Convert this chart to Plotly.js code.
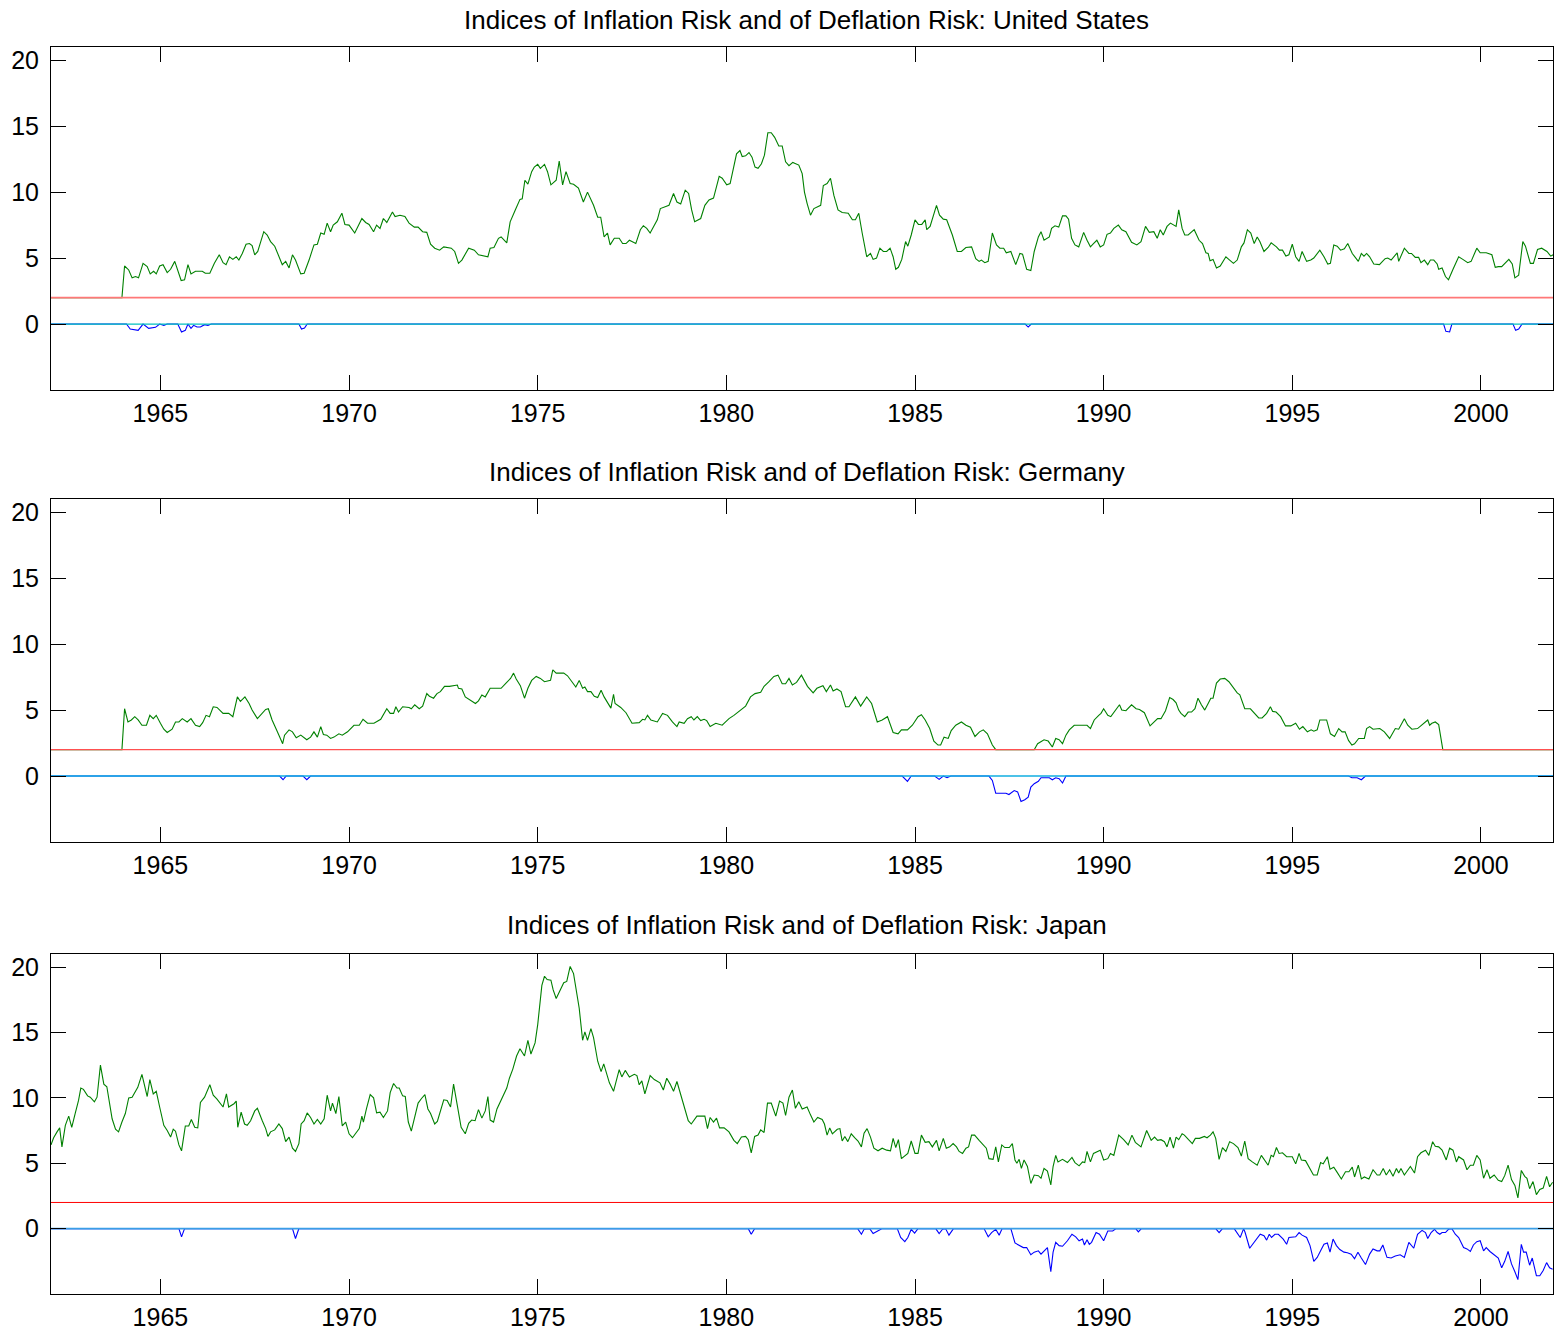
<!DOCTYPE html>
<html>
<head>
<meta charset="utf-8">
<script src="https://cdn.plot.ly/plotly-3.0.1.min.js"></script>
<style>html,body{margin:0;padding:0;background:#fff;}#chart{width:1555px;height:1332px;}</style>
</head>
<body>
<div id="chart"></div>
<script>
// ---------------- DATA ----------------
const countries = ["United States", "Germany", "Japan"];
const titlePrefix = "Indices of Inflation Risk and of Deflation Risk: ";
const xTickYears = [1965, 1970, 1975, 1980, 1985, 1990, 1995, 2000];
const yTickValues = [0, 5, 10, 15, 20];
const xLimits = [1962.1, 2001.91];
const yLimits = [-5, 21];
const inflationThreshold = 2;
const deflationThreshold = 0;

// [decimal year, index value]
const usInflation = [[1962.10,2.0],[1963.98,2.0],[1964.05,4.4],[1964.16,4.1],[1964.25,3.5],[1964.34,3.6],[1964.42,3.5],[1964.54,4.6],[1964.65,4.35],[1964.73,3.8],[1964.82,4.0],[1964.89,3.8],[1964.98,4.4],[1965.07,4.5],[1965.18,3.9],[1965.27,4.15],[1965.38,4.75],[1965.46,4.1],[1965.55,3.3],[1965.64,3.35],[1965.73,4.5],[1965.81,3.8],[1965.93,4.0],[1966.11,4.0],[1966.19,3.85],[1966.31,3.85],[1966.43,4.6],[1966.56,5.25],[1966.66,4.65],[1966.74,4.5],[1966.83,5.1],[1966.92,4.9],[1967.01,5.1],[1967.08,4.85],[1967.17,5.35],[1967.27,6.05],[1967.36,6.1],[1967.43,5.95],[1967.50,5.25],[1967.58,5.5],[1967.74,7.0],[1967.83,6.75],[1967.92,6.25],[1968.03,5.9],[1968.12,5.3],[1968.23,4.5],[1968.32,4.75],[1968.41,4.25],[1968.50,5.25],[1968.58,4.85],[1968.72,3.8],[1968.81,3.85],[1968.94,4.85],[1969.07,6.0],[1969.16,6.05],[1969.25,6.9],[1969.34,6.8],[1969.42,7.65],[1969.51,7.0],[1969.58,7.5],[1969.69,7.75],[1969.81,8.4],[1969.89,7.55],[1970.00,7.5],[1970.15,6.9],[1970.34,8.0],[1970.44,7.7],[1970.53,7.55],[1970.65,7.0],[1970.73,7.5],[1970.82,7.25],[1970.91,8.0],[1971.00,7.7],[1971.15,8.5],[1971.22,8.15],[1971.35,8.25],[1971.48,8.15],[1971.59,7.65],[1971.73,7.35],[1971.83,7.35],[1971.95,7.0],[1972.06,6.95],[1972.16,6.05],[1972.27,5.75],[1972.40,5.6],[1972.51,5.85],[1972.71,5.75],[1972.80,5.5],[1972.90,4.6],[1972.99,4.85],[1973.17,5.75],[1973.32,5.6],[1973.43,5.25],[1973.68,5.1],[1973.74,5.75],[1973.84,5.8],[1973.96,6.5],[1974.03,6.6],[1974.18,6.15],[1974.27,7.75],[1974.40,8.6],[1974.53,9.45],[1974.59,9.5],[1974.66,10.9],[1974.74,10.6],[1974.84,11.55],[1974.91,11.9],[1975.00,12.1],[1975.07,11.8],[1975.18,12.1],[1975.26,11.55],[1975.35,10.55],[1975.49,10.9],[1975.57,12.35],[1975.66,10.55],[1975.75,11.55],[1975.86,10.65],[1975.95,10.6],[1976.08,10.3],[1976.21,9.25],[1976.32,10.0],[1976.48,9.0],[1976.59,8.1],[1976.67,8.1],[1976.76,6.6],[1976.85,6.9],[1976.92,6.0],[1977.03,6.5],[1977.16,6.5],[1977.25,6.1],[1977.34,6.1],[1977.43,6.35],[1977.60,6.1],[1977.72,7.15],[1977.80,7.45],[1977.89,7.25],[1977.98,6.9],[1978.09,7.5],[1978.17,7.9],[1978.25,8.75],[1978.40,8.9],[1978.48,9.0],[1978.60,9.9],[1978.69,9.25],[1978.79,9.1],[1978.91,10.15],[1979.00,9.9],[1979.08,8.65],[1979.16,7.75],[1979.32,8.0],[1979.43,9.0],[1979.54,9.4],[1979.66,9.55],[1979.81,11.2],[1979.89,11.05],[1980.01,10.55],[1980.10,10.65],[1980.27,12.9],[1980.36,13.15],[1980.42,12.7],[1980.51,12.75],[1980.60,13.0],[1980.68,12.65],[1980.76,11.9],[1980.84,11.8],[1980.93,12.15],[1981.01,12.8],[1981.10,14.5],[1981.19,14.5],[1981.28,14.15],[1981.39,13.5],[1981.48,13.5],[1981.57,12.3],[1981.66,12.0],[1981.76,12.25],[1981.92,12.05],[1982.01,11.4],[1982.07,10.0],[1982.14,9.15],[1982.23,8.25],[1982.32,8.75],[1982.50,9.0],[1982.57,10.5],[1982.67,10.65],[1982.76,11.05],[1982.85,9.75],[1982.96,8.65],[1983.07,8.45],[1983.23,8.4],[1983.34,7.9],[1983.42,7.9],[1983.51,8.4],[1983.60,6.9],[1983.72,5.1],[1983.82,5.35],[1983.89,4.9],[1983.98,5.0],[1984.07,5.75],[1984.16,5.5],[1984.25,5.5],[1984.34,5.75],[1984.42,5.1],[1984.49,4.15],[1984.56,4.3],[1984.65,4.9],[1984.75,6.25],[1984.81,5.9],[1984.90,6.75],[1985.00,7.9],[1985.09,7.55],[1985.18,7.55],[1985.27,7.9],[1985.31,7.15],[1985.40,7.4],[1985.57,9.0],[1985.65,8.25],[1985.75,7.95],[1985.84,7.9],[1985.99,6.75],[1986.12,5.5],[1986.23,5.5],[1986.35,5.8],[1986.50,5.85],[1986.61,4.95],[1986.70,4.75],[1986.76,4.85],[1986.85,4.65],[1986.94,4.75],[1987.05,6.9],[1987.16,6.0],[1987.25,5.75],[1987.35,5.75],[1987.42,5.4],[1987.54,5.5],[1987.67,4.5],[1987.78,5.35],[1987.85,5.3],[1987.96,4.15],[1988.07,4.05],[1988.16,5.5],[1988.27,6.6],[1988.34,7.0],[1988.42,6.35],[1988.56,6.6],[1988.62,7.25],[1988.71,7.45],[1988.81,7.35],[1988.91,8.2],[1989.00,8.2],[1989.07,7.95],[1989.15,6.5],[1989.24,6.0],[1989.34,5.85],[1989.47,6.95],[1989.56,6.35],[1989.65,5.85],[1989.73,6.1],[1989.82,6.35],[1989.91,5.85],[1990.00,6.0],[1990.09,6.8],[1990.18,6.9],[1990.27,7.25],[1990.39,7.5],[1990.48,7.15],[1990.59,7.0],[1990.74,6.2],[1990.88,6.0],[1990.99,6.25],[1991.05,6.75],[1991.11,7.4],[1991.21,6.95],[1991.33,7.0],[1991.42,6.5],[1991.50,7.15],[1991.58,6.75],[1991.68,7.4],[1991.77,7.65],[1991.92,7.4],[1991.99,8.65],[1992.08,7.25],[1992.15,6.75],[1992.24,6.75],[1992.40,7.15],[1992.53,6.35],[1992.62,6.1],[1992.71,5.4],[1992.77,5.35],[1992.82,4.8],[1992.90,4.9],[1992.99,4.25],[1993.09,4.4],[1993.24,5.1],[1993.34,4.85],[1993.44,4.6],[1993.54,4.85],[1993.65,5.85],[1993.72,6.15],[1993.81,7.15],[1993.90,6.9],[1993.99,6.1],[1994.07,6.6],[1994.14,6.25],[1994.25,5.5],[1994.36,5.8],[1994.44,6.15],[1994.58,5.85],[1994.66,5.6],[1994.74,5.6],[1994.83,5.15],[1994.91,5.25],[1995.00,6.05],[1995.09,5.1],[1995.18,4.75],[1995.26,5.5],[1995.38,4.75],[1995.49,4.85],[1995.57,5.0],[1995.73,5.6],[1995.84,5.1],[1995.94,4.55],[1996.01,4.6],[1996.10,6.0],[1996.19,5.9],[1996.28,5.6],[1996.38,5.7],[1996.47,6.1],[1996.59,5.35],[1996.68,5.0],[1996.75,4.75],[1996.83,5.35],[1996.90,5.15],[1996.97,5.35],[1997.05,5.1],[1997.16,4.55],[1997.31,4.5],[1997.46,4.95],[1997.53,5.0],[1997.62,4.85],[1997.78,5.4],[1997.82,4.75],[1997.97,5.75],[1998.09,5.35],[1998.16,5.35],[1998.26,5.05],[1998.35,5.05],[1998.41,4.65],[1998.50,4.85],[1998.59,4.5],[1998.66,4.85],[1998.75,4.85],[1998.84,4.55],[1998.88,4.15],[1998.97,4.25],[1999.06,3.6],[1999.14,3.35],[1999.26,4.15],[1999.41,5.1],[1999.52,4.9],[1999.65,4.65],[1999.74,4.75],[1999.89,5.75],[1999.98,5.4],[2000.14,5.4],[2000.29,5.25],[2000.38,4.3],[2000.46,4.35],[2000.55,4.35],[2000.74,4.9],[2000.83,4.55],[2000.90,3.5],[2001.00,3.7],[2001.11,6.25],[2001.18,5.9],[2001.31,4.6],[2001.39,4.6],[2001.50,5.65],[2001.61,5.75],[2001.75,5.5],[2001.85,5.15],[2001.91,5.25]];

const usDeflation = [[1962.10,0],[1964.10,0],[1964.20,-0.38],[1964.41,-0.48],[1964.54,0],[1964.69,-0.33],[1964.87,-0.25],[1964.98,0],[1965.09,-0.1],[1965.18,0],[1965.46,0],[1965.56,-0.6],[1965.66,-0.48],[1965.73,0],[1965.81,-0.33],[1965.88,-0.1],[1965.97,-0.23],[1966.06,-0.23],[1966.17,-0.05],[1966.26,-0.1],[1966.35,0],[1968.67,0],[1968.74,-0.38],[1968.82,-0.3],[1968.89,0],[1987.92,0],[1988.00,-0.23],[1988.08,0],[1999.01,0],[1999.07,-0.55],[1999.17,-0.6],[1999.23,0],[2000.85,0],[2000.92,-0.48],[2001.00,-0.38],[2001.09,0],[2001.91,0]];

const deInflation = [[1962.10,2.0],[1963.98,2.0],[1964.05,5.1],[1964.14,4.1],[1964.23,4.25],[1964.32,4.5],[1964.41,4.25],[1964.51,3.85],[1964.63,3.85],[1964.72,4.6],[1964.81,4.35],[1964.89,4.6],[1965.00,4.0],[1965.09,3.55],[1965.18,3.3],[1965.31,3.55],[1965.40,4.1],[1965.49,4.1],[1965.58,4.35],[1965.71,4.1],[1965.81,4.35],[1965.93,3.85],[1966.04,3.75],[1966.12,4.05],[1966.21,4.6],[1966.30,4.5],[1966.40,5.25],[1966.50,5.2],[1966.66,4.75],[1966.81,4.75],[1966.92,4.5],[1967.04,6.0],[1967.12,5.65],[1967.24,6.0],[1967.35,5.5],[1967.43,5.0],[1967.57,4.35],[1967.70,4.75],[1967.79,5.05],[1967.86,5.1],[1967.96,4.25],[1968.10,3.35],[1968.24,2.45],[1968.29,3.1],[1968.41,3.5],[1968.50,3.35],[1968.60,2.9],[1968.72,3.1],[1968.88,2.75],[1968.98,2.95],[1969.07,3.35],[1969.16,2.95],[1969.25,3.75],[1969.32,3.15],[1969.41,3.1],[1969.51,2.85],[1969.60,2.95],[1969.73,3.2],[1969.82,3.1],[1969.96,3.35],[1970.13,3.85],[1970.27,3.85],[1970.37,4.3],[1970.49,4.0],[1970.66,4.0],[1970.84,4.3],[1971.00,5.1],[1971.09,4.75],[1971.18,4.75],[1971.24,5.25],[1971.31,4.85],[1971.42,5.25],[1971.59,5.2],[1971.65,5.1],[1971.74,5.4],[1971.86,5.1],[1971.95,5.3],[1972.06,6.25],[1972.13,6.05],[1972.24,5.9],[1972.33,6.25],[1972.42,6.4],[1972.53,6.8],[1972.66,6.8],[1972.80,6.9],[1972.87,6.9],[1972.90,6.65],[1972.99,6.6],[1973.08,6.0],[1973.24,5.7],[1973.35,5.5],[1973.43,5.7],[1973.52,6.15],[1973.61,6.0],[1973.74,6.65],[1973.85,6.65],[1974.03,6.65],[1974.16,7.05],[1974.28,7.4],[1974.36,7.8],[1974.43,7.35],[1974.54,6.85],[1974.65,5.9],[1974.74,6.65],[1974.84,7.25],[1974.96,7.55],[1975.07,7.4],[1975.18,7.15],[1975.34,7.25],[1975.40,8.05],[1975.49,7.8],[1975.57,7.8],[1975.69,7.8],[1975.79,7.6],[1975.90,7.15],[1976.01,6.75],[1976.10,7.25],[1976.19,6.65],[1976.25,6.75],[1976.32,6.4],[1976.41,6.4],[1976.50,6.05],[1976.59,5.95],[1976.68,6.5],[1976.76,6.0],[1976.94,5.15],[1977.01,6.2],[1977.05,5.5],[1977.20,5.2],[1977.34,4.8],[1977.50,4.0],[1977.60,4.05],[1977.69,4.05],[1977.78,4.3],[1977.84,4.25],[1977.91,4.6],[1978.00,4.25],[1978.17,4.1],[1978.31,4.75],[1978.44,4.6],[1978.57,4.1],[1978.69,3.75],[1978.75,4.1],[1978.88,4.0],[1978.97,4.35],[1979.07,4.5],[1979.14,4.25],[1979.23,4.5],[1979.32,4.2],[1979.41,4.3],[1979.48,4.2],[1979.57,3.75],[1979.72,4.0],[1979.89,3.85],[1980.07,4.35],[1980.20,4.6],[1980.29,4.8],[1980.40,5.0],[1980.51,5.3],[1980.64,6.0],[1980.76,6.25],[1980.91,6.35],[1981.00,6.8],[1981.13,7.15],[1981.26,7.55],[1981.37,7.65],[1981.48,7.0],[1981.57,7.0],[1981.66,7.4],[1981.75,6.9],[1981.86,7.1],[1981.99,7.65],[1982.10,7.05],[1982.15,6.8],[1982.30,6.3],[1982.40,6.65],[1982.56,6.85],[1982.65,6.4],[1982.76,6.9],[1982.83,6.45],[1982.93,6.6],[1983.04,6.4],[1983.16,5.25],[1983.25,5.25],[1983.42,6.0],[1983.56,5.3],[1983.72,6.0],[1983.85,5.5],[1984.00,4.1],[1984.13,4.25],[1984.27,4.5],[1984.42,3.3],[1984.55,3.2],[1984.64,3.5],[1984.80,3.5],[1984.93,3.85],[1985.08,4.5],[1985.17,4.65],[1985.27,4.25],[1985.39,3.6],[1985.50,2.65],[1985.61,2.35],[1985.68,2.35],[1985.77,2.95],[1985.88,2.85],[1985.96,3.45],[1986.08,3.85],[1986.23,4.1],[1986.35,3.85],[1986.47,3.7],[1986.59,3.0],[1986.71,3.35],[1986.81,3.5],[1986.92,3.2],[1987.05,2.35],[1987.14,2.0],[1988.16,2.0],[1988.25,2.45],[1988.42,2.75],[1988.53,2.65],[1988.64,2.2],[1988.73,2.85],[1988.82,2.75],[1988.91,2.45],[1989.00,3.1],[1989.09,3.5],[1989.22,3.85],[1989.35,3.85],[1989.47,3.8],[1989.56,3.85],[1989.65,3.6],[1989.75,4.25],[1989.87,4.6],[1989.93,4.75],[1990.00,5.1],[1990.11,4.6],[1990.19,4.5],[1990.33,5.0],[1990.42,5.4],[1990.48,5.0],[1990.59,4.95],[1990.74,5.4],[1990.86,5.1],[1990.95,5.05],[1991.08,4.8],[1991.23,3.8],[1991.33,4.1],[1991.43,4.35],[1991.52,4.35],[1991.64,4.95],[1991.75,5.95],[1991.84,5.8],[1991.92,5.55],[1991.99,5.0],[1992.05,4.75],[1992.15,4.5],[1992.24,4.85],[1992.33,4.85],[1992.42,5.1],[1992.50,5.9],[1992.59,5.4],[1992.68,5.0],[1992.77,5.5],[1992.84,5.9],[1992.90,5.9],[1992.99,7.05],[1993.09,7.35],[1993.21,7.4],[1993.32,7.15],[1993.46,6.65],[1993.54,6.3],[1993.61,6.15],[1993.74,5.1],[1993.89,5.1],[1994.03,4.7],[1994.11,4.4],[1994.20,4.4],[1994.32,4.75],[1994.42,5.25],[1994.48,4.9],[1994.57,4.85],[1994.69,4.5],[1994.82,3.8],[1994.96,3.8],[1995.09,4.0],[1995.19,3.55],[1995.28,3.75],[1995.40,3.35],[1995.50,3.5],[1995.57,3.4],[1995.66,3.5],[1995.73,4.25],[1995.91,4.25],[1996.01,3.2],[1996.12,3.0],[1996.23,3.6],[1996.32,3.35],[1996.40,3.35],[1996.49,2.7],[1996.58,2.35],[1996.65,2.45],[1996.76,2.85],[1996.91,2.85],[1996.97,3.6],[1997.05,3.75],[1997.14,3.55],[1997.32,3.6],[1997.44,3.35],[1997.58,2.85],[1997.73,3.6],[1997.82,3.55],[1997.97,4.35],[1998.06,3.85],[1998.17,3.55],[1998.32,3.6],[1998.43,3.85],[1998.59,4.25],[1998.64,3.85],[1998.70,4.0],[1998.79,4.1],[1998.88,3.9],[1998.99,2.0],[2001.91,2.0]];

const deDeflation = [[1962.10,0],[1968.16,0],[1968.25,-0.28],[1968.33,0],[1968.78,0],[1968.88,-0.28],[1968.98,0],[1984.66,0],[1984.80,-0.4],[1984.90,0],[1985.52,0],[1985.64,-0.25],[1985.75,0],[1985.85,-0.13],[1985.95,0],[1986.96,0],[1987.05,-0.33],[1987.14,-1.3],[1987.41,-1.3],[1987.49,-1.4],[1987.63,-1.1],[1987.72,-1.2],[1987.81,-1.93],[1987.91,-1.8],[1988.00,-1.6],[1988.07,-0.84],[1988.16,-0.58],[1988.27,-0.4],[1988.34,-0.13],[1988.56,-0.13],[1988.64,-0.28],[1988.73,-0.13],[1988.82,-0.2],[1988.91,-0.53],[1989.00,0],[1996.49,0],[1996.58,-0.13],[1996.72,-0.13],[1996.83,-0.28],[1996.94,0],[2001.91,0]];

const jpInflation = [[1962.10,6.4],[1962.17,6.95],[1962.26,7.4],[1962.33,7.7],[1962.39,6.25],[1962.48,7.9],[1962.57,8.6],[1962.65,7.75],[1962.74,8.8],[1962.83,9.8],[1962.89,10.75],[1962.96,10.65],[1963.07,10.15],[1963.14,10.05],[1963.25,9.7],[1963.32,10.05],[1963.41,12.5],[1963.50,11.05],[1963.58,10.85],[1963.72,8.4],[1963.81,7.6],[1963.89,7.4],[1963.98,8.15],[1964.07,8.8],[1964.16,10.0],[1964.25,10.05],[1964.40,10.8],[1964.51,11.8],[1964.65,10.1],[1964.72,11.4],[1964.81,10.3],[1964.89,10.5],[1964.98,9.3],[1965.09,7.9],[1965.18,7.5],[1965.27,7.0],[1965.34,7.6],[1965.40,7.45],[1965.49,6.4],[1965.56,5.95],[1965.66,7.85],[1965.75,7.85],[1965.82,8.35],[1965.91,7.75],[1965.99,7.7],[1966.06,9.65],[1966.17,10.05],[1966.31,11.0],[1966.40,10.2],[1966.50,9.9],[1966.66,9.3],[1966.75,10.3],[1966.81,9.3],[1966.95,9.55],[1967.01,9.75],[1967.05,7.75],[1967.14,8.9],[1967.23,8.0],[1967.30,7.9],[1967.39,8.25],[1967.50,9.0],[1967.57,9.2],[1967.70,8.25],[1967.79,7.65],[1967.85,7.05],[1967.92,7.4],[1968.03,7.55],[1968.14,8.0],[1968.23,7.65],[1968.32,6.65],[1968.41,7.0],[1968.50,6.15],[1968.58,5.9],[1968.67,6.5],[1968.73,8.0],[1968.81,8.25],[1968.89,8.85],[1968.98,8.5],[1969.07,8.0],[1969.16,8.35],[1969.25,8.0],[1969.34,8.4],[1969.42,10.2],[1969.51,9.0],[1969.56,9.6],[1969.65,8.8],[1969.73,10.1],[1969.82,7.85],[1969.91,8.15],[1970.00,7.25],[1970.09,6.95],[1970.18,7.3],[1970.27,7.65],[1970.34,8.6],[1970.38,8.15],[1970.46,9.15],[1970.56,10.25],[1970.65,10.0],[1970.73,8.85],[1970.82,8.9],[1970.91,8.5],[1971.02,9.0],[1971.09,10.4],[1971.18,11.1],[1971.27,10.75],[1971.33,10.75],[1971.42,10.15],[1971.49,10.1],[1971.57,8.15],[1971.65,7.45],[1971.74,8.45],[1971.83,9.6],[1971.92,9.95],[1972.01,10.25],[1972.09,9.15],[1972.16,8.8],[1972.27,8.0],[1972.34,8.2],[1972.51,9.85],[1972.60,9.8],[1972.69,9.3],[1972.77,11.05],[1972.87,9.4],[1972.97,7.75],[1973.08,7.25],[1973.17,8.05],[1973.25,8.3],[1973.34,8.25],[1973.43,9.1],[1973.52,8.45],[1973.61,9.0],[1973.68,10.1],[1973.74,8.3],[1973.83,8.15],[1973.92,9.15],[1974.05,9.9],[1974.18,10.75],[1974.25,11.5],[1974.34,12.2],[1974.44,13.2],[1974.53,13.75],[1974.65,13.2],[1974.74,14.4],[1974.82,13.35],[1974.93,14.2],[1975.00,15.6],[1975.11,18.6],[1975.18,19.3],[1975.25,19.05],[1975.35,19.0],[1975.41,18.25],[1975.49,17.6],[1975.60,18.25],[1975.69,18.8],[1975.77,18.9],[1975.86,20.05],[1975.95,19.5],[1976.01,18.35],[1976.10,16.85],[1976.19,14.4],[1976.25,15.05],[1976.32,14.4],[1976.41,15.3],[1976.48,14.6],[1976.59,12.8],[1976.68,12.0],[1976.75,12.6],[1976.90,11.15],[1977.01,10.5],[1977.16,12.15],[1977.23,11.6],[1977.32,12.1],[1977.43,11.6],[1977.56,11.8],[1977.63,11.7],[1977.69,11.0],[1977.76,11.3],[1977.84,10.3],[1977.98,11.7],[1978.09,11.4],[1978.24,11.15],[1978.33,10.6],[1978.42,11.5],[1978.51,11.05],[1978.60,10.5],[1978.69,11.25],[1978.79,10.3],[1978.88,9.3],[1978.99,8.25],[1979.07,8.0],[1979.22,8.6],[1979.43,8.6],[1979.50,7.65],[1979.57,8.5],[1979.66,8.15],[1979.74,8.45],[1979.82,7.7],[1979.94,7.7],[1980.07,7.4],[1980.20,6.75],[1980.29,6.5],[1980.40,7.0],[1980.51,7.05],[1980.58,6.8],[1980.66,5.8],[1980.75,7.05],[1980.84,7.15],[1980.91,7.55],[1981.00,7.35],[1981.09,9.6],[1981.19,9.6],[1981.31,8.6],[1981.41,9.75],[1981.50,9.6],[1981.57,8.65],[1981.66,10.05],[1981.75,10.6],[1981.83,9.2],[1981.92,9.7],[1982.01,9.15],[1982.14,9.3],[1982.23,8.7],[1982.32,8.15],[1982.42,8.5],[1982.54,8.35],[1982.60,8.0],[1982.67,7.15],[1982.74,7.7],[1982.81,7.25],[1982.94,7.6],[1983.01,7.65],[1983.07,6.7],[1983.14,7.05],[1983.22,6.65],[1983.31,7.25],[1983.40,6.95],[1983.49,6.7],[1983.58,6.25],[1983.65,7.3],[1983.73,7.65],[1983.82,7.0],[1983.91,6.15],[1984.02,5.95],[1984.13,6.15],[1984.25,6.0],[1984.35,5.95],[1984.42,6.9],[1984.49,6.2],[1984.56,6.8],[1984.64,5.35],[1984.75,5.6],[1984.81,5.75],[1984.90,6.7],[1985.00,5.75],[1985.08,5.75],[1985.17,7.15],[1985.27,6.6],[1985.37,6.65],[1985.46,6.25],[1985.57,6.75],[1985.64,5.95],[1985.68,6.25],[1985.75,6.9],[1985.83,6.15],[1985.92,6.25],[1986.01,6.5],[1986.10,6.25],[1986.17,5.9],[1986.26,5.75],[1986.35,6.15],[1986.42,6.25],[1986.50,7.15],[1986.58,7.15],[1986.70,6.75],[1986.81,6.4],[1986.89,6.15],[1986.96,5.35],[1987.07,5.3],[1987.14,6.25],[1987.21,5.1],[1987.30,6.4],[1987.38,6.2],[1987.50,6.2],[1987.58,6.5],[1987.65,5.25],[1987.70,5.0],[1987.76,5.3],[1987.82,4.6],[1987.89,5.25],[1987.98,4.75],[1988.07,3.45],[1988.16,4.1],[1988.27,4.05],[1988.34,3.85],[1988.42,4.6],[1988.51,4.4],[1988.60,3.35],[1988.66,4.75],[1988.73,5.6],[1988.79,5.1],[1988.91,5.3],[1989.04,5.05],[1989.16,5.45],[1989.24,5.05],[1989.35,4.8],[1989.44,5.1],[1989.50,5.05],[1989.56,5.9],[1989.65,5.1],[1989.73,5.75],[1989.91,6.0],[1990.00,5.25],[1990.11,5.35],[1990.18,5.75],[1990.27,5.6],[1990.40,7.15],[1990.53,6.8],[1990.65,6.4],[1990.75,7.15],[1990.84,6.6],[1990.99,6.25],[1991.14,7.5],[1991.26,6.75],[1991.35,7.0],[1991.43,6.75],[1991.52,6.8],[1991.61,6.65],[1991.68,6.25],[1991.76,7.0],[1991.85,6.15],[1991.92,7.0],[1991.99,6.8],[1992.08,7.25],[1992.14,7.15],[1992.25,6.8],[1992.35,6.5],[1992.43,6.9],[1992.54,6.9],[1992.67,7.05],[1992.74,6.95],[1992.83,7.15],[1992.90,7.4],[1992.97,6.9],[1993.06,5.3],[1993.15,6.2],[1993.24,5.9],[1993.34,6.65],[1993.44,6.5],[1993.56,6.2],[1993.65,5.55],[1993.74,6.7],[1993.83,5.35],[1993.94,5.1],[1994.07,4.85],[1994.18,5.6],[1994.29,5.1],[1994.36,4.85],[1994.44,5.6],[1994.50,5.5],[1994.58,6.2],[1994.65,5.75],[1994.74,5.8],[1994.85,5.5],[1995.00,5.5],[1995.09,4.95],[1995.18,5.75],[1995.24,5.25],[1995.35,5.2],[1995.44,4.75],[1995.56,4.1],[1995.66,4.1],[1995.75,5.05],[1995.82,4.95],[1995.93,5.5],[1996.00,4.55],[1996.10,4.7],[1996.19,4.3],[1996.30,3.8],[1996.41,4.35],[1996.50,4.35],[1996.59,4.7],[1996.65,3.95],[1996.75,4.85],[1996.83,3.8],[1996.91,3.95],[1997.03,3.8],[1997.14,4.5],[1997.25,4.1],[1997.32,4.1],[1997.41,4.6],[1997.49,4.1],[1997.58,4.5],[1997.67,4.0],[1997.76,4.6],[1997.82,4.25],[1997.88,4.6],[1997.97,4.1],[1998.13,4.75],[1998.24,4.25],[1998.32,5.5],[1998.41,5.8],[1998.53,6.0],[1998.62,5.6],[1998.72,6.65],[1998.79,6.3],[1998.88,6.25],[1998.97,6.0],[1999.08,5.25],[1999.17,6.15],[1999.26,6.0],[1999.35,5.1],[1999.41,5.5],[1999.54,5.25],[1999.63,4.5],[1999.72,4.85],[1999.80,4.85],[1999.89,5.6],[1999.98,5.25],[2000.07,3.85],[2000.16,4.5],[2000.24,3.85],[2000.35,4.1],[2000.46,3.7],[2000.55,3.6],[2000.63,4.05],[2000.72,4.85],[2000.81,3.75],[2000.90,3.3],[2000.98,2.35],[2001.07,4.45],[2001.16,4.0],[2001.22,3.85],[2001.29,3.05],[2001.38,3.6],[2001.47,2.6],[2001.56,3.0],[2001.65,3.1],[2001.74,4.0],[2001.82,3.2],[2001.90,3.55]];

const jpDeflation = [[1962.10,0],[1965.49,0],[1965.56,-0.63],[1965.64,0],[1968.50,0],[1968.58,-0.76],[1968.67,0],[1980.58,0],[1980.66,-0.43],[1980.75,0],[1983.48,0],[1983.58,-0.43],[1983.65,-0.05],[1983.80,0],[1983.89,-0.38],[1984.02,-0.18],[1984.13,0],[1984.53,0],[1984.62,-0.68],[1984.73,-1.0],[1984.81,-0.68],[1984.90,-0.05],[1984.99,-0.35],[1985.08,0],[1985.55,0],[1985.64,-0.38],[1985.73,-0.05],[1985.81,0],[1985.90,-0.5],[1986.02,0],[1986.83,0],[1986.94,-0.63],[1987.03,-0.3],[1987.14,-0.05],[1987.23,-0.5],[1987.31,0],[1987.54,0],[1987.65,-1.1],[1987.76,-1.3],[1987.87,-1.45],[1987.96,-1.45],[1988.07,-2.0],[1988.16,-1.8],[1988.27,-1.7],[1988.34,-1.95],[1988.42,-1.7],[1988.51,-1.45],[1988.60,-3.3],[1988.66,-1.8],[1988.73,-1.05],[1988.82,-1.3],[1988.91,-1.35],[1989.04,-0.93],[1989.16,-0.43],[1989.26,-0.63],[1989.35,-0.93],[1989.44,-0.8],[1989.49,-1.25],[1989.56,-0.85],[1989.62,-1.2],[1989.68,-1.05],[1989.80,-0.3],[1989.89,-0.43],[1990.00,-0.93],[1990.11,-0.18],[1990.24,-0.18],[1990.33,0],[1990.85,0],[1990.92,-0.25],[1991.00,0],[1992.97,0],[1993.06,-0.3],[1993.15,0],[1993.46,0],[1993.56,-0.43],[1993.62,-0.68],[1993.71,0],[1993.75,-0.3],[1993.87,-1.5],[1994.02,-0.93],[1994.15,-0.43],[1994.25,-0.55],[1994.32,-0.88],[1994.39,-0.43],[1994.45,-0.68],[1994.54,-0.43],[1994.63,-0.43],[1994.76,-0.8],[1994.85,-1.2],[1994.91,-0.68],[1995.00,-0.63],[1995.09,-0.63],[1995.18,-0.3],[1995.26,-0.5],[1995.38,-0.68],[1995.47,-1.3],[1995.57,-2.5],[1995.66,-2.2],[1995.75,-1.7],[1995.84,-1.2],[1995.93,-1.1],[1996.00,-1.8],[1996.08,-0.8],[1996.17,-1.3],[1996.26,-1.6],[1996.37,-1.8],[1996.46,-1.85],[1996.56,-1.95],[1996.65,-2.3],[1996.74,-1.8],[1996.83,-2.25],[1996.94,-2.75],[1997.05,-1.95],[1997.14,-1.55],[1997.25,-1.7],[1997.32,-1.7],[1997.40,-1.25],[1997.51,-2.2],[1997.62,-2.25],[1997.73,-2.1],[1997.86,-2.0],[1997.97,-2.2],[1998.09,-1.05],[1998.22,-1.5],[1998.32,-0.43],[1998.44,-0.13],[1998.53,-0.3],[1998.59,-0.76],[1998.68,-0.3],[1998.77,-0.05],[1998.84,-0.3],[1998.91,-0.43],[1998.97,-0.3],[1999.06,-0.3],[1999.14,-0.05],[1999.23,0],[1999.32,-0.43],[1999.41,-0.68],[1999.54,-1.45],[1999.63,-1.55],[1999.72,-1.75],[1999.80,-1.25],[1999.89,-1.0],[1999.98,-0.93],[2000.07,-1.7],[2000.14,-1.45],[2000.24,-1.75],[2000.35,-2.0],[2000.46,-2.25],[2000.55,-3.0],[2000.63,-2.5],[2000.72,-1.75],[2000.81,-2.7],[2000.90,-3.3],[2000.98,-3.9],[2001.07,-1.2],[2001.13,-1.8],[2001.20,-1.8],[2001.29,-2.8],[2001.36,-2.25],[2001.47,-3.6],[2001.56,-3.6],[2001.65,-3.2],[2001.74,-2.6],[2001.82,-3.0],[2001.90,-3.1]];

// ---------------- STYLE ----------------
const inflationSeries = [usInflation, deInflation, jpInflation];
const deflationSeries = [usDeflation, deDeflation, jpDeflation];
const panelStyle = [
  {red: "#ff7878", redW: 1.6, cyan: "#00bfbf", cyanW: 1.3},
  {red: "#ff5050", redW: 1.3, cyan: "#10aee0", cyanW: 1.6},
  {red: "#ff0000", redW: 1.0, cyan: "#3a9ee6", cyanW: 1.6}
];
const FONT = "Liberation Sans, Arial, Helvetica, sans-serif";
const W = 1555, H = 1332;
const plotLeft = 51, plotRight = 1553;
const panelPx = [[47, 390], [499, 842], [954, 1294]]; // top,bottom in px
const titleY = [20, 472, 925];

const traces = [];
const layout = {
  width: W, height: H,
  margin: {l: 0, r: 0, t: 0, b: 0, pad: 0},
  paper_bgcolor: "#ffffff", plot_bgcolor: "#ffffff",
  showlegend: false,
  font: {family: FONT, color: "#000000", size: 25},
  annotations: []
};

countries.forEach((c, i) => {
  const n = i + 1;
  const xa = n === 1 ? "x" : "x" + n;
  const ya = n === 1 ? "y" : "y" + n;
  const st = panelStyle[i];
  const inf = inflationSeries[i], def = deflationSeries[i];
  traces.push({x: inf.map(p => p[0]), y: inf.map(p => p[1]), xaxis: xa, yaxis: ya,
    type: "scatter", mode: "lines", line: {color: "#008000", width: 1.1}, hoverinfo: "skip"});
  traces.push({x: xLimits, y: [inflationThreshold, inflationThreshold], xaxis: xa, yaxis: ya,
    type: "scatter", mode: "lines", line: {color: st.red, width: st.redW}, hoverinfo: "skip"});
  traces.push({x: def.map(p => p[0]), y: def.map(p => p[1]), xaxis: xa, yaxis: ya,
    type: "scatter", mode: "lines", line: {color: "#0000ff", width: 1.1}, hoverinfo: "skip"});
  traces.push({x: xLimits, y: [deflationThreshold, deflationThreshold], xaxis: xa, yaxis: ya,
    type: "scatter", mode: "lines", line: {color: st.cyan, width: st.cyanW}, hoverinfo: "skip"});

  const [top, bot] = panelPx[i];
  const axBase = {
    showline: true, linecolor: "#000000", linewidth: 1, mirror: "ticks",
    ticks: "inside", ticklen: 15, tickwidth: 1, tickcolor: "#000000",
    showgrid: false, zeroline: false, automargin: false,
    tickfont: {family: FONT, size: 25, color: "#000000"}
  };
  layout["xaxis" + (n === 1 ? "" : n)] = Object.assign({}, axBase, {
    domain: [plotLeft / W, plotRight / W], anchor: ya, range: xLimits,
    tickmode: "array", tickvals: xTickYears, ticktext: xTickYears.map(String),
    ticklabelstandoff: 1
  });
  layout["yaxis" + (n === 1 ? "" : n)] = Object.assign({}, axBase, {
    domain: [(H - bot) / H, (H - top) / H], anchor: xa, range: yLimits,
    tickmode: "array", tickvals: yTickValues, ticktext: yTickValues.map(String),
    ticklabelstandoff: 6
  });
  layout.annotations.push({
    text: titlePrefix + c, xref: "paper", yref: "paper",
    x: (plotLeft + plotRight) / 2 / W + 5 / W, y: 1 - titleY[i] / H,
    xanchor: "center", yanchor: "middle", showarrow: false,
    font: {family: FONT, size: 26, color: "#000000"}
  });
});

Plotly.newPlot("chart", traces, layout, {staticPlot: true, displayModeBar: false});
</script>
</body>
</html>
